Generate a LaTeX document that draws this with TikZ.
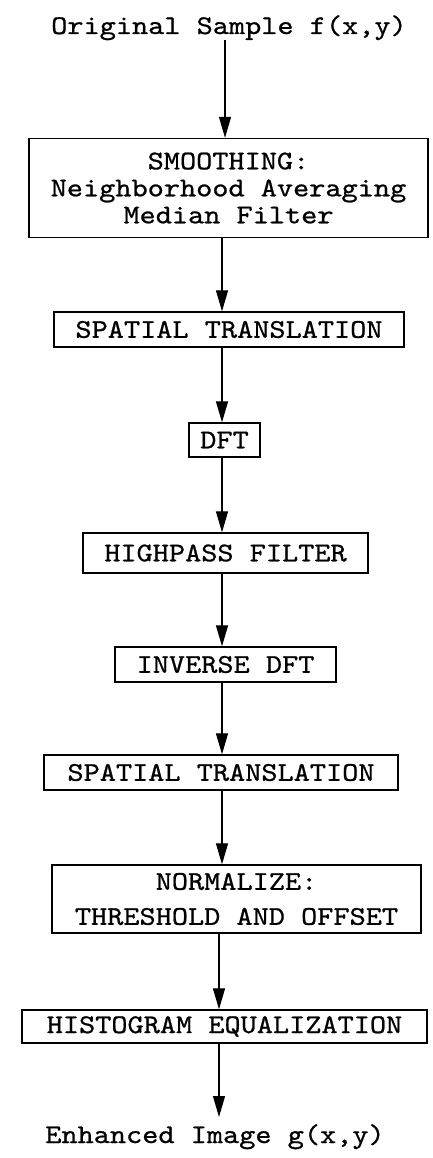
\documentclass[tikz,border=0pt]{standalone}
\usepackage{fontspec}
\newfontfamily\courfont[FakeStretch=1.14,FakeBold=0.8]{lmmono10-regular.otf}
\usetikzlibrary{arrows.meta}
\begin{document}
\begin{tikzpicture}[x=1pt,y=-1pt,
  box/.style={draw, line width=1.4pt, inner sep=0pt, align=center, font=\courfont\fontsize{27}{27}\selectfont},
  lbl/.style={inner sep=0pt, font=\courfont\fontsize{27}{27}\selectfont},
  arr/.style={line width=1.3pt, -{Triangle[length=21pt,width=12pt]}}]
\useasboundingbox (0,0) rectangle (433,1158);
\coordinate (a1) at (225,0);
\coordinate (ax) at (222,0);
\coordinate (ay) at (219,0);
\node[lbl, anchor=base] (src) at (229,34) {Original Sample f(x,y)};
\node[box, minimum width=399pt, minimum height=99pt] (smooth) at (228.5,188) {SMOOTHING:\\Neighborhood Averaging\\Median Filter};
\node[box, minimum width=350pt, minimum height=35pt] (st1) at (229,329.5) {SPATIAL TRANSLATION};
\node[box, minimum width=71pt, minimum height=34pt] (dft) at (224.5,440) {DFT};
\node[box, minimum width=285pt, minimum height=40pt] (hp) at (225.5,553) {HIGHPASS FILTER};
\node[box, minimum width=221pt, minimum height=35pt] (idft) at (225.5,664.5) {INVERSE DFT};
\node[box, minimum width=354pt, minimum height=35pt] (st2) at (221,772.5) {SPATIAL TRANSLATION};
\node[box, minimum width=369pt, minimum height=68pt, font=\courfont\fontsize{27}{35}\selectfont] (norm) at (236.5,899) {NORMALIZE:\\THRESHOLD AND OFFSET};
\node[box, minimum width=405pt, minimum height=33pt] (hist) at (224.5,1026.5) {HISTOGRAM EQUALIZATION};
\node[lbl, anchor=base] (dst) at (215,1143) {Enhanced Image g(x,y)};
\coordinate (dtip) at (219,1117);
\draw[arr] (src.south -| a1) -- (smooth.north -| a1);
\draw[arr] (smooth.south -| ax) -- (st1.north -| ax);
\draw[arr] (st1.south -| ax) -- (dft.north -| ax);
\draw[arr] (dft.south -| ax) -- (hp.north -| ax);
\draw[arr] (hp.south -| ax) -- (idft.north -| ax);
\draw[arr] (idft.south -| ax) -- (st2.north -| ax);
\draw[arr] (st2.south -| ax) -- (norm.north -| ax);
\draw[arr] (norm.south -| ay) -- (hist.north -| ay);
\draw[arr] (hist.south -| ay) -- (dtip);
\end{tikzpicture}
\end{document}
